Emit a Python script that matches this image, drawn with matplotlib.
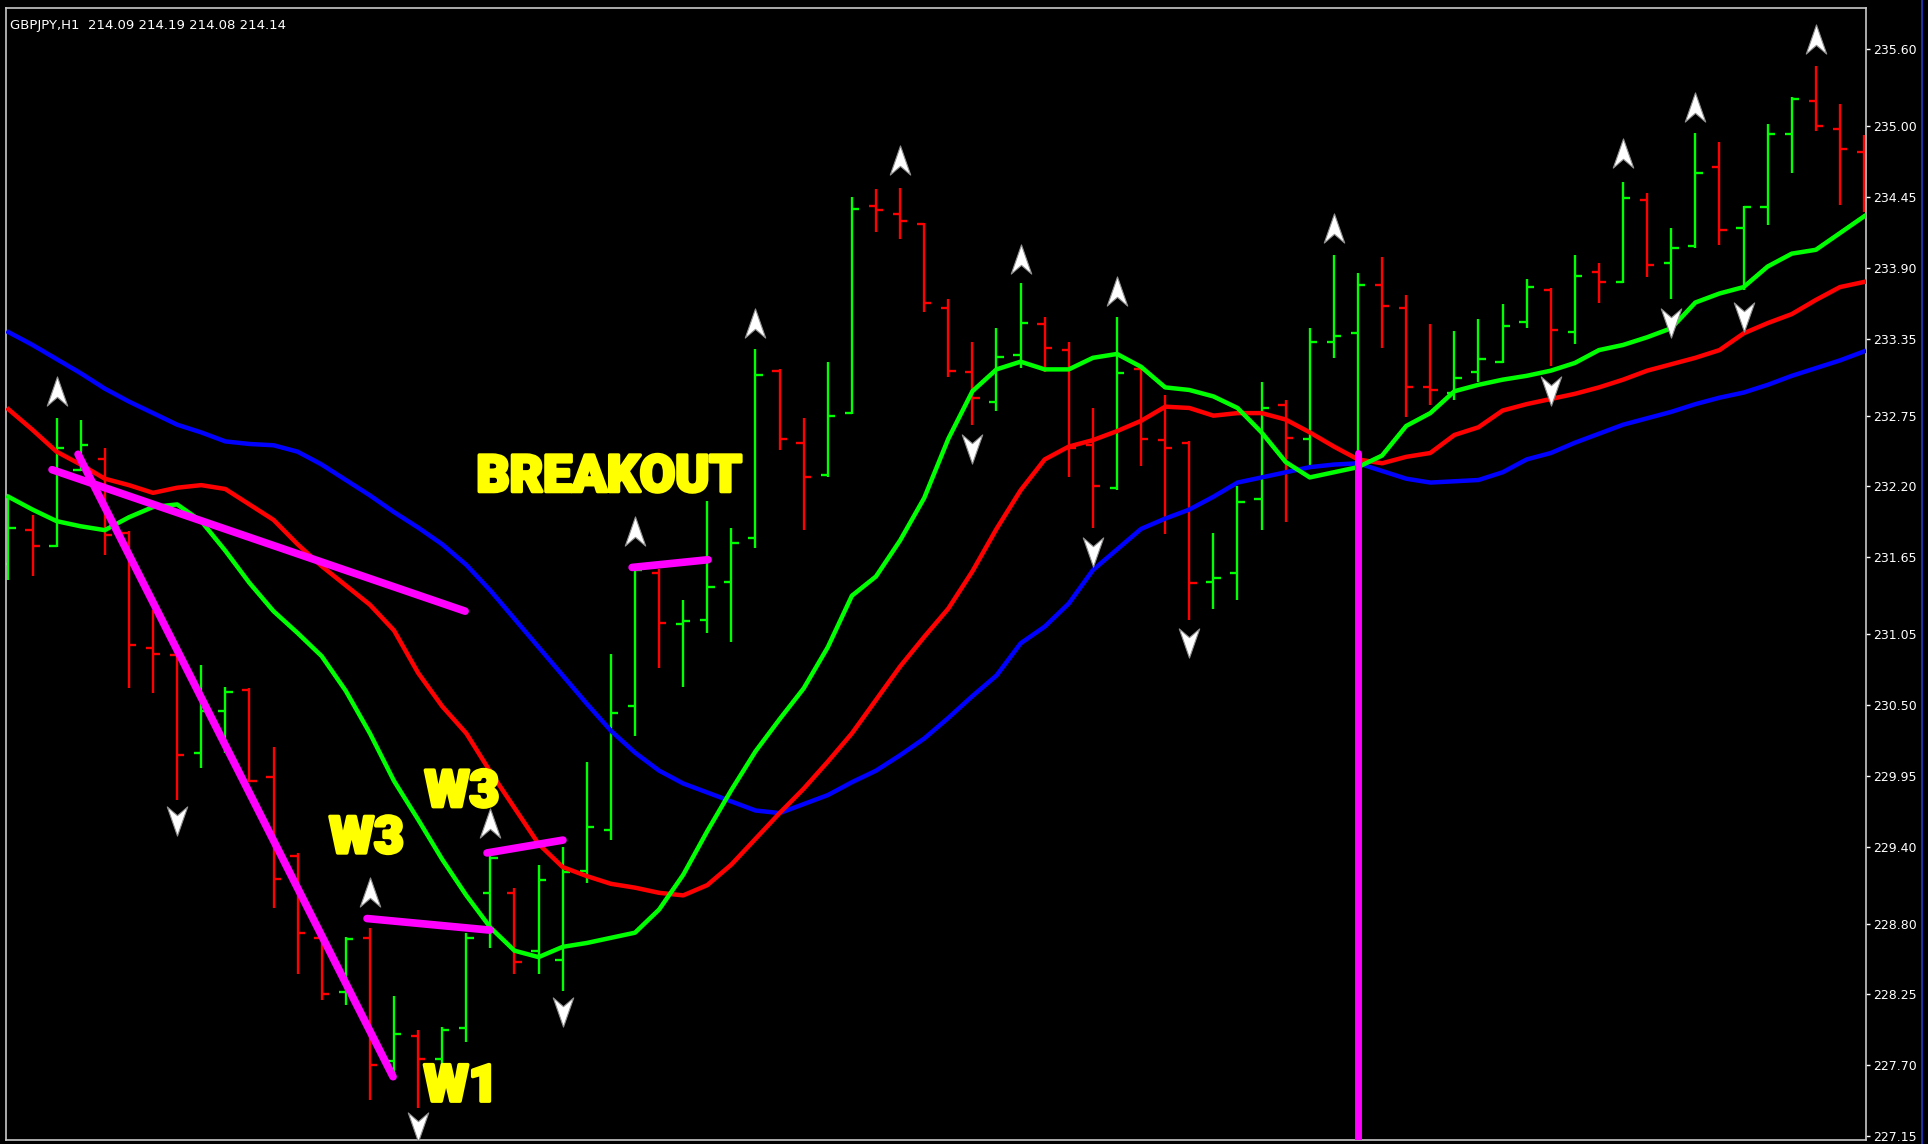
import matplotlib
matplotlib.use("Agg")
import matplotlib.pyplot as plt
import matplotlib.lines as mlines
import matplotlib.patheffects as pe
from matplotlib.path import Path

# hourly bars, index 0 = leftmost bar on screen
opens = [231.60, 231.86, 231.74, 232.33, 232.41, 231.84, 230.94, 230.89, 230.13, 230.45,
         230.62, 229.94, 229.33, 228.69, 228.27, 228.69, 227.73, 227.93, 227.75, 227.99,
         229.04, 229.04, 228.59, 228.52, 229.21, 229.53, 230.49, 231.53, 231.13, 231.16,
         231.46, 231.80, 233.10, 232.54, 232.29, 232.77, 234.38, 234.32, 234.24, 233.59,
         233.09, 232.86, 233.22, 233.46, 233.26, 232.52, 232.19, 233.11, 232.56, 232.54,
         231.46, 231.53, 232.10, 232.83, 232.57, 233.32, 233.39, 233.77, 233.59, 232.97,
         232.93, 233.09, 233.17, 233.48, 233.73, 233.40, 233.87, 233.79, 234.43, 233.94,
         234.07, 234.68, 234.21, 234.37, 234.94, 235.20, 234.98, 234.80]
highs = [232.12, 231.98, 232.73, 232.72, 232.50, 231.85, 231.24, 230.90, 230.81, 230.64,
         230.63, 230.17, 229.35, 228.71, 228.70, 228.77, 228.24, 227.97, 228.00, 228.73,
         229.35, 229.08, 229.26, 229.40, 230.06, 230.90, 231.59, 231.56, 231.32, 232.09,
         231.88, 233.27, 233.11, 232.73, 233.17, 234.45, 234.51, 234.52, 234.25, 233.66,
         233.32, 233.43, 233.78, 233.52, 233.32, 232.81, 233.52, 233.12, 232.91, 232.55,
         231.84, 232.20, 233.01, 232.87, 233.43, 234.00, 233.86, 233.98, 233.69, 233.46,
         233.41, 233.50, 233.62, 233.81, 233.74, 234.00, 233.94, 234.57, 234.48, 234.21,
         234.95, 234.88, 234.38, 235.02, 235.23, 235.47, 235.17, 234.93]
lows = [231.47, 231.50, 231.73, 232.32, 231.67, 230.63, 230.59, 229.76, 230.01, 230.13,
        229.90, 228.92, 228.41, 228.21, 228.17, 227.43, 227.62, 227.37, 227.66, 227.88,
        228.61, 228.41, 228.41, 228.28, 229.12, 229.45, 230.26, 230.79, 230.64, 231.06,
        230.99, 231.72, 232.48, 231.86, 232.27, 232.76, 234.18, 234.12, 233.56, 233.05,
        232.68, 232.79, 233.12, 233.09, 232.27, 231.88, 232.17, 232.36, 231.83, 231.16,
        231.25, 231.32, 231.86, 231.92, 232.35, 233.20, 232.40, 233.28, 232.74, 232.83,
        232.87, 233.01, 233.16, 233.43, 233.14, 233.31, 233.63, 233.78, 233.83, 233.66,
        234.05, 234.08, 233.73, 234.23, 234.64, 234.96, 234.39, 234.33]
closes = [231.88, 231.74, 232.50, 232.52, 231.82, 230.97, 230.90, 230.11, 230.45, 230.60,
          229.91, 229.15, 228.73, 228.25, 228.68, 227.70, 227.94, 227.75, 227.97, 228.69,
          229.31, 228.50, 229.14, 229.20, 229.55, 230.44, 231.55, 231.14, 231.15, 231.42,
          231.76, 233.07, 232.57, 232.27, 232.75, 234.36, 234.35, 234.26, 233.63, 233.10,
          232.89, 233.21, 233.47, 233.28, 232.50, 232.20, 233.08, 232.57, 232.50, 231.45,
          231.49, 232.08, 232.81, 232.58, 233.32, 233.37, 233.77, 233.60, 232.97, 232.95,
          233.04, 233.19, 233.45, 233.75, 233.42, 233.84, 233.79, 234.44, 233.92, 234.05,
          234.64, 234.19, 234.37, 234.94, 235.21, 235.00, 234.82, 234.43]

# moving averages (fast green, middle red, slow blue)
ma_fast = [232.12, 232.02, 231.93, 231.89, 231.86, 231.96, 232.04, 232.06, 231.93, 231.70,
           231.45, 231.23, 231.06, 230.88, 230.61, 230.28, 229.91, 229.61, 229.30, 229.02,
           228.77, 228.59, 228.54, 228.62, 228.65, 228.69, 228.73, 228.91, 229.18, 229.52,
           229.84, 230.14, 230.39, 230.63, 230.95, 231.35, 231.50, 231.78, 232.11, 232.57,
           232.94, 233.11, 233.17, 233.11, 233.11, 233.20, 233.23, 233.13, 232.97, 232.95,
           232.90, 232.81, 232.62, 232.39, 232.27, 232.31, 232.35, 232.44, 232.67, 232.77,
           232.94, 232.99, 233.03, 233.06, 233.10, 233.16, 233.26, 233.30, 233.36, 233.43,
           233.63, 233.70, 233.75, 233.91, 234.01, 234.04, 234.17, 234.30]
ma_mid = [232.80, 232.64, 232.47, 232.37, 232.26, 232.21, 232.15, 232.19, 232.21, 232.18,
          232.06, 231.94, 231.75, 231.58, 231.43, 231.28, 231.08, 230.75, 230.49, 230.28,
          229.98, 229.70, 229.42, 229.24, 229.17, 229.11, 229.08, 229.04, 229.02, 229.10,
          229.26, 229.46, 229.66, 229.85, 230.06, 230.28, 230.54, 230.80, 231.03, 231.25,
          231.54, 231.87, 232.17, 232.41, 232.51, 232.56, 232.63, 232.71, 232.82, 232.81,
          232.75, 232.77, 232.77, 232.72, 232.62, 232.51, 232.41, 232.38, 232.43, 232.46,
          232.60, 232.66, 232.79, 232.84, 232.88, 232.92, 232.97, 233.03, 233.10, 233.15,
          233.20, 233.26, 233.39, 233.47, 233.54, 233.65, 233.75, 233.79]
ma_slow = [233.40, 233.30, 233.19, 233.08, 232.96, 232.86, 232.77, 232.68, 232.62, 232.55,
           232.53, 232.52, 232.47, 232.37, 232.25, 232.13, 232.00, 231.88, 231.75, 231.59,
           231.39, 231.17, 230.95, 230.73, 230.51, 230.30, 230.13, 229.99, 229.89, 229.82,
           229.75, 229.68, 229.66, 229.73, 229.80, 229.90, 229.99, 230.11, 230.24, 230.40,
           230.57, 230.73, 230.98, 231.11, 231.29, 231.55, 231.71, 231.87, 231.95, 232.02,
           232.12, 232.23, 232.27, 232.31, 232.35, 232.37, 232.38, 232.32, 232.26, 232.23,
           232.24, 232.25, 232.31, 232.41, 232.46, 232.54, 232.61, 232.68, 232.73, 232.78,
           232.84, 232.89, 232.93, 232.99, 233.06, 233.12, 233.18, 233.25]

# fractal-style arrows: bar index and price
up_idx = [2, 15, 20, 26, 31, 37, 42, 46, 55, 67, 70, 75]
up_price = [232.94, 229.05, 229.58, 231.85, 233.47, 234.74, 233.97, 233.72, 234.21, 234.79, 235.15, 235.68]
dn_idx = [7, 17, 23, 40, 45, 49, 64, 69, 72]
dn_price = [229.60, 227.22, 228.11, 232.49, 231.69, 230.98, 232.94, 233.47, 233.52]

# hand-drawn magenta trend lines: (x0, p0, x1, p1)
trend_lines = [
    (1.81, 232.33, 18.95, 231.23),
    (2.89, 232.45, 15.96, 227.61),
    (14.88, 228.84, 19.98, 228.75),
    (19.86, 229.35, 23.01, 229.45),
    (25.88, 231.57, 29.03, 231.63),
]
vline_idx = 56
vline_top = 232.46

labels = [("BREAKOUT", 24.92, 232.16), ("W3", 14.86, 229.35), ("W3", 18.82, 229.71), ("W1", 18.78, 227.42)]

tick_values = [235.60, 235.00, 234.45, 233.90, 233.35, 232.75, 232.20, 231.65,
               231.05, 230.50, 229.95, 229.40, 228.80, 228.25, 227.70, 227.15]

header = "GBPJPY,H1  214.09 214.19 214.08 214.14"

W, H = 1928, 1144
fig = plt.figure(figsize=(W / 100, H / 100), dpi=100, facecolor="black")
ax = fig.add_axes([6 / W, 4 / H, 1860 / W, 1132 / H])
ax.set_facecolor("black")

x = list(range(len(opens)))
cols = ["#00ff00" if c >= o else "#ff0000" for o, c in zip(opens, closes)]
tick = 0.3
ax.vlines(x, lows, highs, colors=cols, lw=1.7, zorder=2)
ax.hlines(opens, [i - tick for i in x], x, colors=cols, lw=1.7, zorder=2)
ax.hlines(closes, x, [i + tick for i in x], colors=cols, lw=1.7, zorder=2)

ax.plot(x, ma_slow, color="#0000ff", lw=3.2, zorder=3)
ax.plot(x, ma_mid, color="#ff0000", lw=3.2, zorder=3)
ax.plot(x, ma_fast, color="#00ff00", lw=3.2, zorder=3)

for x0, p0, x1, p1 in trend_lines:
    ax.plot([x0, x1], [p0, p1], color="#ff00ff", lw=5.5, solid_capstyle="round", zorder=4)
ax.plot([vline_idx, vline_idx], [vline_top, 226.0], color="#ff00ff", lw=5.0,
        solid_capstyle="round", zorder=4)

up_arrow = Path([(0, 1), (0.7, -1), (0, -0.4), (-0.7, -1), (0, 1)],
                [Path.MOVETO, Path.LINETO, Path.LINETO, Path.LINETO, Path.CLOSEPOLY])
dn_arrow = Path([(0, -1), (0.7, 1), (0, 0.4), (-0.7, 1), (0, -1)],
                [Path.MOVETO, Path.LINETO, Path.LINETO, Path.LINETO, Path.CLOSEPOLY])
ax.plot(up_idx, up_price, ls="none", marker=up_arrow, ms=21, mfc="white", mec="#909090",
        mew=0.8, zorder=5)
ax.plot(dn_idx, dn_price, ls="none", marker=dn_arrow, ms=21, mfc="white", mec="#909090",
        mew=0.8, zorder=5)

for txt, tx, ty in labels:
    ax.text(tx, ty, txt, color="#ffff00", fontsize=37, fontweight="heavy",
            family=["Roboto", "DejaVu Sans"], ha="center", va="baseline",
            zorder=6, path_effects=[pe.withStroke(linewidth=2.5, foreground="#ffff00")])

ax.set_xlim(-0.1, 77.08)
ax.set_ylim(227.118, 235.92)
ax.set_xticks([])
ax.yaxis.tick_right()
ax.set_yticks(tick_values)
ax.set_yticklabels([f"{v:.2f}" for v in tick_values])
ax.tick_params(axis="y", colors="white", length=3, width=1, pad=2, labelsize=9)
for s in ax.spines.values():
    s.set_color("#c8c8c8")
    s.set_linewidth(1.2)

fig.text(10 / W, 1 - 26 / H, header, color="white", fontsize=9.5, va="center", ha="left")
fig.add_artist(mlines.Line2D([1922 / W, 1922 / W], [0, 1], color="#2030a0", lw=1.5))

fig.savefig("out.png", dpi=100, facecolor="black")
